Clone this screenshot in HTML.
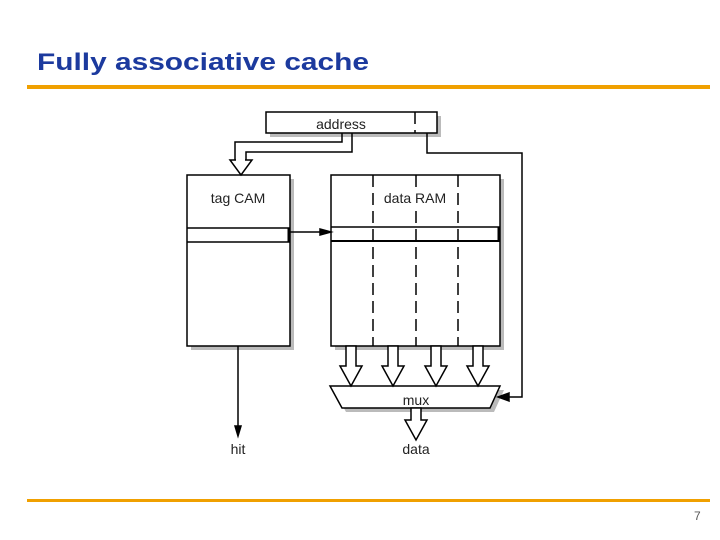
<!DOCTYPE html>
<html><head><style>
body{margin:0;background:#fff;}
</style></head><body>
<svg width="720" height="540" xmlns="http://www.w3.org/2000/svg" style="display:block">
<text x="37" y="70" font-family="Liberation Sans, sans-serif" font-size="24" font-weight="bold" fill="#1c3a9e" textLength="332" lengthAdjust="spacingAndGlyphs">Fully associative cache</text>
<rect x="27" y="85" width="683" height="4" fill="#f0a000"/>
<rect x="27" y="499" width="683" height="3" fill="#f0a000"/>
<text x="694" y="520" font-family="Liberation Sans, sans-serif" font-size="12" fill="#555">7</text>
<g stroke="none">
<rect x="270" y="116" width="171" height="21" fill="#bbb"/>
<rect x="191" y="179" width="103" height="171" fill="#bbb"/>
<rect x="335" y="179" width="169" height="171" fill="#bbb"/>
<polygon points="334,390 504,390 494,412 346,412" fill="#bbb"/>
</g>
<g stroke="#000" stroke-width="1.5" fill="#fff">
<rect x="266" y="112" width="171" height="21"/>
<rect x="187" y="175" width="103" height="171"/>
<rect x="331" y="175" width="169" height="171"/>
<line x1="187" y1="228" x2="290" y2="228"/>
<line x1="187" y1="242" x2="290" y2="242"/>
<line x1="331" y1="227" x2="500" y2="227"/>
<line x1="331" y1="241" x2="500" y2="241" stroke-width="2"/>
<line x1="289" y1="228" x2="289" y2="242" stroke-width="3"/>
<line x1="499" y1="227" x2="499" y2="241" stroke-width="3"/>
<g stroke-dasharray="12,6" fill="none">
<line x1="415" y1="112" x2="415" y2="133"/>
<line x1="373" y1="175" x2="373" y2="346"/>
<line x1="416" y1="175" x2="416" y2="346"/>
<line x1="458" y1="175" x2="458" y2="346"/>
</g>
<rect x="380" y="187" width="70" height="20" fill="#fff" stroke="none"/>
<polyline fill="none" points="342,133 342,142 235,142 235,160"/>
<polyline fill="none" points="352,133 352,152 246,152 246,160"/>
<polygon points="230,160 252,160 241,175"/>
<line x1="236" y1="160" x2="245" y2="160" stroke="#fff" stroke-width="2"/>
<line x1="290" y1="232" x2="322" y2="232"/>
<polygon points="331,232 320,229 320,235" fill="#000"/>
<polyline fill="none" points="427,133 427,153 522,153 522,397 508,397"/>
<polygon points="498,397 509,393 509,401" fill="#000"/>
<line x1="238" y1="346" x2="238" y2="428"/>
<polygon points="238,436 235,426 241,426" fill="#000"/>
<polygon points="330,386 500,386 490,408 342,408"/>
</g>
<g stroke="#000" stroke-width="1.5" fill="#fff">
<polygon points="346,346 356,346 356,366 362,366 351,386 340,366 346,366"/>
<polygon points="388,346 398,346 398,366 404,366 393,386 382,366 388,366"/>
<polygon points="431,346 441,346 441,366 447,366 436,386 425,366 431,366"/>
<polygon points="473,346 483,346 483,366 489,366 478,386 467,366 473,366"/>
<polygon points="411,408 421,408 421,420 427,420 416,440 405,420 411,420"/>
</g>
<g font-family="Liberation Sans, sans-serif" font-size="14" fill="#222" text-anchor="middle">
<text x="341" y="129">address</text>
<text x="238" y="203">tag CAM</text>
<text x="415" y="203">data RAM</text>
<text x="416" y="405">mux</text>
<text x="238" y="454">hit</text>
<text x="416" y="454">data</text>
</g>
</svg>
</body></html>
